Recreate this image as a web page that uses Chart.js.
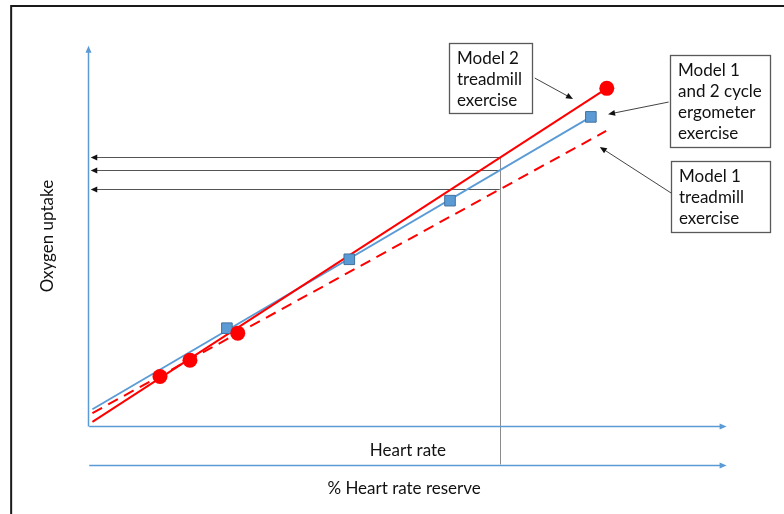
<!DOCTYPE html>
<html>
<head>
<meta charset="utf-8">
<script src="https://cdn.jsdelivr.net/npm/chart.js@4/dist/chart.umd.min.js"></script>
<style>
html,body{margin:0;padding:0;background:#fff;}
#wrap{width:784px;height:514px;position:relative;}
</style>
</head>
<body>
<div id="wrap"><canvas id="c" width="784" height="514"></canvas></div>
<script>
// ---- Data (schematic units: % of axis length) ----
const cycleX = [21.6, 40.8, 56.6, 78.7];           // Model 1 and 2 cycle ergometer (squares)
const cycleY = [25.8, 43.9, 59.3, 81.3];
const treadM2X = [11.1, 15.8, 23.3, 81.2];         // Model 2 treadmill (circles)
const treadM2Y = [13.1, 17.4, 24.5, 88.8];
const lineCycleX = [0.5, 78.7];
const lineCycleY = [4.5, 81.3];
const lineM2X = [0.5, 81.2];
const lineM2Y = [1.2, 88.8];
const lineM1X = [0.5, 81.1];
const lineM1Y = [3.5, 77.6];
const hrReference = 64.4;                          // vertical reference on % HRR axis
const refUptakes = [70.8, 67.4, 62.4];             // horizontal arrows to oxygen uptake axis
const axisMax = 100;
const hrrAxisY = -10;
const xLabel1 = "Heart rate";
const xLabel2 = "% Heart rate reserve";
const yLabel = "Oxygen uptake";
const boxTexts = [
  ["Model 2", "treadmill", "exercise"],
  ["Model 1", "and 2 cycle", "ergometer", "exercise"],
  ["Model 1", "treadmill", "exercise"]
];

const pts = (xs, ys) => xs.map((x, i) => ({x: x, y: ys[i]}));

const BLUE = '#5B9BD5';
const RED = '#FF0000';
const FONT = '17px Lato, "Open Sans", sans-serif';

const decor = {
  id: 'decor',
  beforeDatasetsDraw(chart) {
    const ctx = chart.ctx, xs = chart.scales.x, ys = chart.scales.y;
    const X = v => xs.getPixelForValue(v), Y = v => ys.getPixelForValue(v);
    ctx.save();
    // outer frame
    ctx.strokeStyle = '#1a1a1a'; ctx.lineWidth = 2;
    ctx.beginPath();
    ctx.moveTo(X(-12.25), chart.height + 5);
    ctx.lineTo(X(-12.25), Y(110.4));
    ctx.lineTo(chart.width + 5, Y(110.4));
    ctx.stroke();

    // reference vertical line
    ctx.strokeStyle = '#8c8c8c'; ctx.lineWidth = 1;
    ctx.beginPath();
    ctx.moveTo(Math.round(X(hrReference)) + 0.5, Y(refUptakes[0]));
    ctx.lineTo(Math.round(X(hrReference)) + 0.5, Y(hrrAxisY));
    ctx.stroke();
    // horizontal arrows
    refUptakes.forEach(v => {
      const y = Math.round(Y(v)) + 0.5;
      ctx.strokeStyle = '#555'; ctx.lineWidth = 1;
      ctx.beginPath(); ctx.moveTo(X(hrReference), y); ctx.lineTo(X(0) + 4, y); ctx.stroke();
      ctx.fillStyle = '#111';
      ctx.beginPath(); ctx.moveTo(X(0) + 1.5, y); ctx.lineTo(X(0) + 8, y - 3); ctx.lineTo(X(0) + 8, y + 3); ctx.closePath(); ctx.fill();
    });

    // axes
    const axisArrowH = (y) => {
      ctx.strokeStyle = BLUE; ctx.lineWidth = 1.5;
      ctx.beginPath(); ctx.moveTo(X(0), y); ctx.lineTo(X(axisMax) - 4, y); ctx.stroke();
      ctx.fillStyle = BLUE;
      ctx.beginPath(); ctx.moveTo(X(axisMax), y); ctx.lineTo(X(axisMax) - 7, y - 3); ctx.lineTo(X(axisMax) - 7, y + 3); ctx.closePath(); ctx.fill();
    };
    axisArrowH(Math.round(Y(0)) + 0.5);
    axisArrowH(Math.round(Y(hrrAxisY)) + 0.5);
    const x0 = Math.round(X(0)) - 0.5;
    ctx.strokeStyle = BLUE; ctx.lineWidth = 1.5;
    ctx.beginPath(); ctx.moveTo(x0, Y(0)); ctx.lineTo(x0, Y(axisMax) + 4); ctx.stroke();
    ctx.fillStyle = BLUE;
    ctx.beginPath(); ctx.moveTo(x0, Y(axisMax)); ctx.lineTo(x0 - 3, Y(axisMax) + 7); ctx.lineTo(x0 + 3, Y(axisMax) + 7); ctx.closePath(); ctx.fill();

    // axis labels
    ctx.fillStyle = '#111'; ctx.font = FONT; ctx.textAlign = 'center'; ctx.textBaseline = 'middle';
    ctx.fillText(xLabel1, X(50), Y(-6.2));
    ctx.fillText(xLabel2, X(49.4), Y(-16.4));
    ctx.save();
    ctx.translate(X(-6.5), Y(50)); ctx.rotate(-Math.PI / 2);
    ctx.fillText(yLabel, 0, 0);
    ctx.restore();
    ctx.restore();
  },
  afterDatasetsDraw(chart) {
    const ctx = chart.ctx, xs = chart.scales.x, ys = chart.scales.y;
    const X = v => xs.getPixelForValue(v), Y = v => ys.getPixelForValue(v);
    ctx.save();
    const boxes = [
      {x1: 56.4, y1: 100.7, x2: 69.5, y2: 82.3},
      {x1: 91.1, y1: 97.6, x2: 106.8, y2: 73.4},
      {x1: 91.3, y1: 69.7, x2: 106.8, y2: 51.0}
    ];
    const arrows = [
      {fx: 69.9, fy: 91.5, tx: 75.9, ty: 86.0},
      {fx: 90.9, fy: 85.2, tx: 81.4, ty: 82.0},
      {fx: 91.3, fy: 61.3, tx: 80.1, ty: 73.4}
    ];
    boxes.forEach((b, i) => {
      const l = Math.round(X(b.x1)) + 0.5, t = Math.round(Y(b.y1)) + 0.5;
      const r = Math.round(X(b.x2)) + 0.5, bt = Math.round(Y(b.y2)) + 0.5;
      ctx.fillStyle = '#fff'; ctx.fillRect(l, t, r - l, bt - t);
      ctx.strokeStyle = '#595959'; ctx.lineWidth = 1.3;
      ctx.strokeRect(l, t, r - l, bt - t);
      ctx.fillStyle = '#111'; ctx.font = FONT; ctx.textAlign = 'left'; ctx.textBaseline = 'middle';
      boxTexts[i].forEach((s, k) => ctx.fillText(s, l + 7.5, t + 15 + k * 21));
    });
    arrows.forEach(a => {
      const fx = X(a.fx), fy = Y(a.fy), tx = X(a.tx), ty = Y(a.ty);
      const ang = Math.atan2(ty - fy, tx - fx);
      ctx.strokeStyle = '#444'; ctx.lineWidth = 1;
      ctx.beginPath(); ctx.moveTo(fx, fy); ctx.lineTo(tx - 5 * Math.cos(ang), ty - 5 * Math.sin(ang)); ctx.stroke();
      ctx.fillStyle = '#111';
      ctx.beginPath();
      ctx.moveTo(tx, ty);
      ctx.lineTo(tx - 7 * Math.cos(ang) + 3 * Math.sin(ang), ty - 7 * Math.sin(ang) - 3 * Math.cos(ang));
      ctx.lineTo(tx - 7 * Math.cos(ang) - 3 * Math.sin(ang), ty - 7 * Math.sin(ang) + 3 * Math.cos(ang));
      ctx.closePath(); ctx.fill();
    });
    ctx.restore();
  }
};

const bg = {
  id: 'bg',
  beforeDraw(chart) {
    const ctx = chart.ctx;
    ctx.save(); ctx.fillStyle = '#fff'; ctx.fillRect(0, 0, chart.width, chart.height); ctx.restore();
  }
};

new Chart(document.getElementById('c'), {
  type: 'scatter',
  data: {
    datasets: [
      {label: 'Model 2 treadmill', data: pts(treadM2X, treadM2Y), showLine: false,
       pointStyle: 'circle', pointRadius: 7.5, backgroundColor: RED, borderColor: RED, borderWidth: 0, order: 1},
      {label: 'Cycle ergometer', data: pts(cycleX, cycleY), showLine: false,
       pointStyle: 'rect', pointRadius: 7.5, backgroundColor: BLUE, borderColor: '#41719C', borderWidth: 1, order: 2},
      {label: 'Fit M2 treadmill', data: pts(lineM2X, lineM2Y), showLine: true, pointRadius: 0,
       borderColor: RED, borderWidth: 2, order: 3},
      {label: 'Fit cycle', data: pts(lineCycleX, lineCycleY), showLine: true, pointRadius: 0,
       borderColor: BLUE, borderWidth: 1.8, order: 4},
      {label: 'Fit M1 treadmill', data: pts(lineM1X, lineM1Y), showLine: true, pointRadius: 0,
       borderColor: RED, borderWidth: 2, borderDash: [11, 7], order: 5}
    ]
  },
  options: {
    responsive: false,
    animation: false,
    devicePixelRatio: 1,
    layout: {padding: 0, autoPadding: false},
    plugins: {legend: {display: false}, tooltip: {enabled: false}},
    scales: {
      x: {type: 'linear', min: -14, max: 109, display: false},
      y: {type: 'linear', min: -23, max: 112, display: false}
    }
  },
  plugins: [bg, decor]
});
</script>
</body>
</html>
